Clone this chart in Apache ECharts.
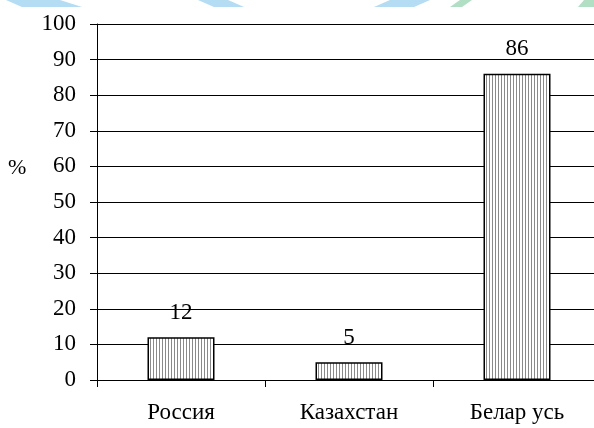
<!DOCTYPE html>
<html><head><meta charset="utf-8">
<script src="https://cdn.jsdelivr.net/npm/echarts@6/dist/echarts.min.js"></script>
<style>html,body{margin:0;padding:0;background:#fff}#c{width:594px;height:428px}</style>
</head><body><div id="c"></div>
<script>
const categories = ['Россия', 'Казахстан', 'Белар усь'];
const values = [12, 5, 86];
const yTicks = [0, 10, 20, 30, 40, 50, 60, 70, 80, 90, 100];

const pc = document.createElement('canvas');
pc.width = 3; pc.height = 4;
const g = pc.getContext('2d');
g.fillStyle = '#fff'; g.fillRect(0, 0, 3, 4);
g.fillStyle = '#8a8a8a'; g.fillRect(0, 0, 1, 4);

const font = 'Liberation Serif';
const chart = echarts.init(document.getElementById('c'), null, {renderer: 'canvas'});
chart.setOption({
  animation: false,
  backgroundColor: '#fff',
  grid: {left: 97, width: 504, top: 24, bottom: 48, outerBoundsMode: 'none', containLabel: false},
  xAxis: {
    type: 'category', data: categories,
    axisLine: {lineStyle: {color: '#000', width: 1}},
    axisTick: {show: true, length: 7, lineStyle: {color: '#000'}},
    axisLabel: {fontFamily: font, fontSize: 23, color: '#000', margin: 21}
  },
  yAxis: {
    type: 'value', min: yTicks[0], max: yTicks[yTicks.length - 1], interval: 10,
    axisLine: {show: true, lineStyle: {color: '#000', width: 1}},
    axisTick: {show: true, length: 7, lineStyle: {color: '#000'}},
    axisLabel: {fontFamily: font, fontSize: 23, color: '#000', margin: 21},
    splitLine: {show: true, lineStyle: {color: '#000', width: 1}}
  },
  series: [{
    type: 'bar', data: values, barWidth: 67,
    itemStyle: {color: {image: pc, repeat: 'repeat'}, borderColor: '#000', borderWidth: 1.5},
    label: {show: true, position: 'top', distance: 13, fontFamily: font, fontSize: 23, color: '#000'}
  }],
  graphic: [
    {type: 'text', left: 8, top: 157, style: {text: '%', fontFamily: font, fontSize: 22, fill: '#000'}},
    {type: 'polygon', shape: {points: [[6,0],[60,0],[82,7],[22,7]]}, style: {fill: '#b4dcf3'}},
    {type: 'polygon', shape: {points: [[198,0],[228,0],[244,7],[214,7]]}, style: {fill: '#b4dcf3'}},
    {type: 'polygon', shape: {points: [[390,0],[430,0],[414,7],[374,7]]}, style: {fill: '#b4dcf3'}},
    {type: 'polygon', shape: {points: [[460,0],[472,0],[462,7],[450,7]]}, style: {fill: '#b0dfc4'}},
    {type: 'polygon', shape: {points: [[584,0],[594,0],[594,7],[578,7]]}, style: {fill: '#b0dfc4'}}
  ]
});
</script></body></html>
